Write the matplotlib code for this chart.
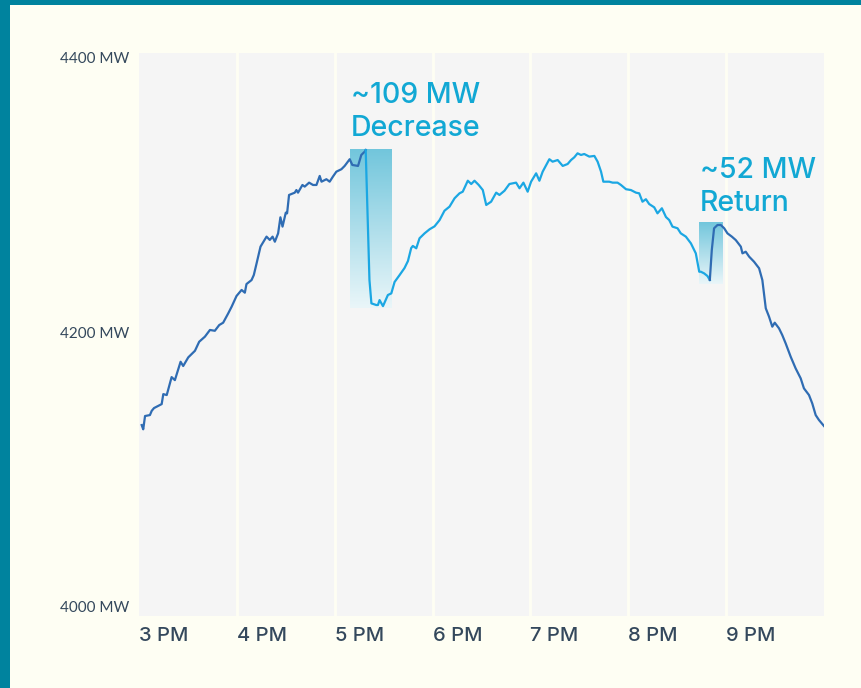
import numpy as np
import matplotlib
matplotlib.use("Agg")
import matplotlib.pyplot as plt
from matplotlib.patches import Rectangle
from matplotlib.colors import LinearSegmentedColormap

# ---- data (minutes after 3 PM, MW) ----
minutes = [1.65, 2.6, 3.7, 6.7, 7.8, 9.2, 13.9, 14.9, 17.0, 20.0, 22.0, 25.5, 27.1, 30.2, 34.3,
           36.9, 40.4, 43.5, 46.5, 49.2, 51.6, 54.7, 56.8, 59.8, 62.9, 64.9, 65.9, 69.0, 70.4,
           72.1, 74.5, 78.2, 80.2, 81.9, 83.3, 85.3, 86.7, 88.0, 90.0, 90.8, 92.0, 95.5, 96.5,
           97.5, 100.2, 101.6, 104.3, 106.7, 108.8, 110.8, 111.9, 114.9, 116.9, 118.9, 121.0,
           124.1, 126.1, 129.2, 130.8, 134.3, 136.3, 138.4, 139.0,
           141.3, 142.5, 145.5, 146.5, 147.5, 149.6, 152.6, 154.7, 156.7, 159.8, 162.8, 164.9,
           166.9, 167.9, 170.0, 172.0, 175.1, 178.2, 181.2, 184.3, 187.3, 190.4, 193.5, 196.5,
           198.5, 201.6, 203.7, 205.7, 208.3, 210.8, 212.9, 215.9, 219.0, 221.0, 224.1, 227.1,
           231.2, 233.3, 235.7, 238.3, 240.4, 243.5, 245.5, 247.5, 251.6, 253.6, 256.7, 259.8,
           262.8, 264.9, 266.9, 268.9, 271.0, 273.0, 276.1, 279.2, 281.2, 283.3, 284.7, 288.3,
           290.4, 293.4, 295.5, 298.6, 301.6, 304.7, 306.7, 308.7, 310.8, 312.8, 315.9, 317.9,
           320.6, 323.1, 325.1, 327.1, 330.2, 332.2, 335.3, 338.4, 341.4, 343.5, 344.5, 346.5,
           348.5, 350.0,
           351.2, 352.6, 354.7, 356.7, 358.8, 360.8, 363.5, 365.9, 369.0, 370.0, 372.0, 374.1,
           377.1, 380.2, 382.2, 384.3, 386.3, 388.3, 389.8, 392.4, 394.4, 396.5, 399.6, 402.6,
           405.7, 407.7, 410.8, 412.8, 414.9, 416.9, 420.0]
mw = [4132.1, 4129.0, 4138.7, 4139.4, 4142.5, 4144.5, 4147.4, 4154.7, 4154.0, 4167.1, 4164.9,
      4178.3, 4175.2, 4181.5, 4186.3, 4192.9, 4196.6, 4201.5, 4200.9, 4205.1, 4206.8, 4213.6,
      4218.5, 4226.3, 4230.7, 4228.7, 4235.0, 4237.9, 4241.6, 4250.1, 4262.3, 4269.6, 4267.2,
      4269.6, 4265.9, 4272.0, 4283.7, 4276.9, 4287.1, 4286.6, 4300.0, 4301.7, 4303.6, 4301.7,
      4307.3, 4306.1, 4309.0, 4307.3, 4307.3, 4313.9, 4309.7, 4311.5, 4309.7, 4313.4, 4317.0,
      4318.8, 4321.2, 4326.1, 4321.9, 4321.2, 4329.2, 4331.6, 4332.8,
      4238.0, 4220.9, 4219.7, 4219.7, 4223.3, 4218.9, 4227.0, 4228.2, 4236.5, 4241.6, 4246.7,
      4251.8, 4261.3, 4262.8, 4261.1, 4268.4, 4272.0, 4275.0, 4277.1, 4281.7, 4288.5, 4291.5,
      4297.6, 4301.2, 4302.4, 4310.4, 4308.0, 4310.4, 4307.3, 4303.6, 4292.7, 4295.1, 4301.7,
      4300.0, 4303.1, 4308.0, 4309.0, 4304.9, 4309.0, 4302.4, 4309.7, 4315.8, 4310.4, 4317.0,
      4326.1, 4324.3, 4325.5, 4321.2, 4322.6, 4325.5, 4327.5, 4330.4, 4329.2, 4329.9, 4328.0,
      4328.5, 4324.3, 4317.0, 4309.7, 4309.7, 4309.0, 4309.0, 4307.3, 4304.2, 4303.6, 4301.7,
      4301.2, 4295.1, 4296.9, 4293.4, 4291.0, 4286.6, 4290.3, 4283.9, 4281.7, 4276.9, 4275.7,
      4272.0, 4269.6, 4264.7, 4257.4, 4244.0, 4244.0, 4242.8, 4240.9, 4238.0,
      4259.8, 4275.7, 4278.1, 4278.1, 4275.7, 4272.0, 4269.6, 4267.1, 4262.3, 4257.4, 4258.6,
      4255.0, 4251.3, 4246.5, 4237.9, 4217.3, 4211.2, 4203.9, 4206.8, 4202.7, 4197.8, 4191.7,
      4181.9, 4173.5, 4166.2, 4158.9, 4154.0, 4147.9, 4139.4, 4135.8, 4131.4]

# colour changes at these times (drop start, return start)
segment_breaks = [139.0, 350.0]
segment_colors = ["#2f6cb3", "#1ba7e3", "#2f6cb3"]

hour_ticks = [0, 60, 120, 180, 240, 300, 360]
hour_labels = ["3 PM", "4 PM", "5 PM", "6 PM", "7 PM", "8 PM", "9 PM"]
y_ticks = [4000, 4200, 4400]
y_labels = ["4000 MW", "4200 MW", "4400 MW"]

# highlighted events: (start min, end min, low MW, high MW, label)
events = [
    (129.2, 154.9, 4217.5, 4332.8, "~109 MW\nDecrease"),
    (343.5, 358.2, 4235.0, 4279.6, "~52 MW\nReturn"),
]
label_tops = [4382.8, 4328.0]

# ---- styling ----
BG = "#fefef3"
PLOT_BG = "#f5f5f5"
TEAL = "#00839e"
TEXT = "#34485c"
ACCENT = "#12a8d4"

fig = plt.figure(figsize=(8.61, 6.88), dpi=100, facecolor=BG)
fig.patches.append(Rectangle((0, 1 - 5 / 688), 1, 5 / 688, transform=fig.transFigure,
                             facecolor=TEAL, edgecolor="none", zorder=0))
fig.patches.append(Rectangle((0, 0), 10 / 861, 1, transform=fig.transFigure,
                             facecolor=TEAL, edgecolor="none", zorder=0))

ax = fig.add_axes([139 / 861, 1 - 615.7 / 688, (824 - 139) / 861, (615.7 - 53) / 688])
ax.set_facecolor(PLOT_BG)
for s in ax.spines.values():
    s.set_visible(False)

ax.set_xlim(0, 420)
ax.set_ylim(3993, 4403.6)

# vertical hour gridlines
for t in hour_ticks[1:]:
    ax.axvline(t, color=BG, lw=2.0, zorder=1)

# gradient highlight boxes
cmap = LinearSegmentedColormap.from_list("hl", ["#eaf6f9", "#72c6dc"])
grad = np.linspace(0, 1, 256).reshape(-1, 1)
for (t0, t1, lo, hi, lab), ytop in zip(events, label_tops):
    ax.imshow(grad, extent=[t0, t1, lo, hi], origin="lower", cmap=cmap, aspect="auto",
              zorder=2, interpolation="bilinear")
    ax.text(t0 + 0.6, ytop, lab, color=ACCENT, fontsize=20.5, fontfamily="Inter",
            fontweight="medium", va="top", ha="left", linespacing=1.3, zorder=5)

# line segments
m = np.array(minutes)
v = np.array(mw)
bounds = [m[0]] + segment_breaks + [m[-1]]
for i, c in enumerate(segment_colors):
    sel = (m >= bounds[i]) & (m <= bounds[i + 1])
    ax.plot(m[sel], v[sel], color=c, lw=1.6, zorder=4, solid_joinstyle="round")

ax.set_xticks(hour_ticks)
ax.set_xticklabels(hour_labels, ha="left", fontfamily="Inter", fontsize=14.5,
                   fontweight="medium", color=TEXT)
ax.set_yticks(y_ticks)
ax.set_yticklabels(y_labels, fontfamily="Lato", fontsize=11, color=TEXT)
ax.tick_params(axis="x", length=0, pad=8)
ax.tick_params(axis="y", length=0, pad=7)

fig.savefig("out.png", dpi=100, facecolor=BG)
